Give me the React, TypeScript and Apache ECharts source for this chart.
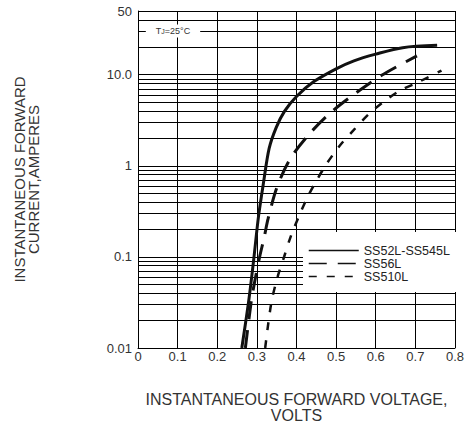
import React, { useEffect, useRef } from "react";
import * as echarts from "echarts";

const xTickLabels = ["0", "0.1", "0.2", "0.3", "0.4", "0.5", "0.6", "0.7", "0.8"];
const yTickValues = [0.01, 0.1, 1, 10, 50];
const yTickLabels = ["0.01", "0.1", "1", "10.0", "50"];
const minorGridValues = [
  0.02, 0.03, 0.04, 0.05, 0.06, 0.07, 0.08, 0.09,
  0.2, 0.3, 0.4, 0.5, 0.6, 0.7, 0.8, 0.9,
  2, 3, 4, 5, 6, 7, 8, 9,
  20, 30, 40,
];

const seriesNames = ["SS52L-SS545L", "SS56L", "SS510L"];

const ss52Voltage = [0.262, 0.28, 0.292, 0.304, 0.3163, 0.331, 0.349, 0.37, 0.4, 0.443, 0.5, 0.545, 0.6, 0.668, 0.755];
const ss52Current = [0.01, 0.0343, 0.093, 0.275, 0.633, 1.55, 2.64, 3.98, 5.77, 8.35, 11.6, 14.2, 16.8, 19.8, 21.0];

const ss56Voltage = [0.271, 0.286, 0.294, 0.307, 0.318, 0.3285, 0.3505, 0.384, 0.431, 0.486, 0.549, 0.615, 0.704];
const ss56Current = [0.01, 0.033, 0.052, 0.1, 0.16, 0.264, 0.577, 1.19, 2.2, 3.82, 6.25, 9.84, 16.1];

const ss510Voltage = [0.321, 0.3366, 0.3529, 0.369, 0.3854, 0.4056, 0.4286, 0.4505, 0.476, 0.5086, 0.543, 0.582, 0.619, 0.661, 0.709, 0.766];
const ss510Current = [0.01, 0.0316, 0.0614, 0.101, 0.167, 0.275, 0.46, 0.687, 1.05, 1.65, 2.43, 3.67, 5.0, 6.68, 8.35, 11.1];

const FONT = "'Liberation Sans', Arial, sans-serif";

function zip(xs: number[], ys: number[]) {
  return xs.map((x, i) => [x, ys[i]]);
}

export default function App() {
  const ref = useRef<HTMLDivElement>(null);

  useEffect(() => {
    if (!ref.current) return;
    const chart = echarts.init(ref.current, null, { renderer: "svg" });

    const lineBase = {
      type: "line",
      showSymbol: false,
      symbol: "none",
      smooth: 0.3,
      z: 2,
      itemStyle: { color: "#111" },
    };

    const option: any = {
      animation: false,
      backgroundColor: "#fff",
      textStyle: { fontFamily: FONT },
      grid: { left: 138, right: 6, top: 11, bottom: 79 },
      xAxis: {
        type: "value",
        min: 0,
        max: 0.8,
        interval: 0.1,
        name: "INSTANTANEOUS FORWARD VOLTAGE,\nVOLTS",
        nameLocation: "middle",
        nameGap: 43,
        nameTextStyle: { fontSize: 16, color: "#333", lineHeight: 16, fontFamily: FONT },
        axisLine: { show: true, lineStyle: { color: "#000", width: 1 } },
        axisTick: { show: false },
        axisLabel: {
          fontSize: 13,
          color: "#333",
          margin: 2,
          fontFamily: FONT,
          formatter: (v: number) => xTickLabels[Math.round(v * 10)] ?? "",
        },
        splitLine: { show: true, lineStyle: { color: "#000", width: 1 } },
      },
      yAxis: {
        type: "log",
        logBase: 10,
        min: 0.01,
        max: 50,
        name: "INSTANTANEOUS FORWARD\nCURRENT,AMPERES",
        nameLocation: "middle",
        nameRotate: 90,
        nameGap: 98,
        nameTextStyle: { fontSize: 15, color: "#333", lineHeight: 14, fontFamily: FONT },
        axisLine: { show: true, lineStyle: { color: "#000", width: 1 } },
        axisTick: { show: false },
        axisLabel: {
          fontSize: 13,
          color: "#333",
          margin: 6,
          fontFamily: FONT,
          formatter: (v: number) => {
            const idx = yTickValues.findIndex((t) => Math.abs(Math.log10(v) - Math.log10(t)) < 1e-6);
            return idx >= 0 ? yTickLabels[idx] : "";
          },
        },
        splitLine: { show: true, lineStyle: { color: "#000", width: 1 } },
      },
      legend: {
        orient: "vertical",
        left: 308,
        top: 244,
        padding: 0,
        itemWidth: 50,
        itemHeight: 11,
        itemGap: 0,
        selectedMode: false,
        z: 5,
        itemStyle: { opacity: 0 },
        lineStyle: { width: 1.5, color: "#111" },
        textStyle: { fontSize: 12.5, color: "#222", lineHeight: 11, fontFamily: FONT },
        data: seriesNames,
      },
      graphic: [
        {
          type: "rect",
          left: 303,
          top: 232,
          z: 3,
          shape: { width: 155, height: 60 },
          style: { fill: "#fff" },
        },
        {
          type: "text",
          x: 173,
          y: 31,
          z: 3,
          style: {
            text: "{a|T}{b|J}{a|=25°C}",
            align: "center",
            verticalAlign: "middle",
            backgroundColor: "#fff",
            padding: [2, 10],
            rich: {
              a: { fontSize: 9, fill: "#333", fontFamily: FONT },
              b: { fontSize: 7, fill: "#333", fontFamily: FONT },
            },
          },
        },
      ],
      series: [
        {
          ...lineBase,
          name: seriesNames[0],
          data: zip(ss52Voltage, ss52Current),
          lineStyle: { color: "#111", width: 3, type: "solid" },
          markLine: {
            silent: true,
            z: 1,
            symbol: ["none", "none"],
            label: { show: false },
            emphasis: { disabled: true },
            lineStyle: { color: "#000", width: 1, type: "solid" },
            data: minorGridValues.map((v) => ({ yAxis: v })),
          },
        },
        {
          ...lineBase,
          name: seriesNames[1],
          data: zip(ss56Voltage, ss56Current),
          lineStyle: { color: "#111", width: 3, type: [18, 11] },
        },
        {
          ...lineBase,
          name: seriesNames[2],
          data: zip(ss510Voltage, ss510Current),
          lineStyle: { color: "#111", width: 2.5, type: [8, 10] },
        },
      ],
    };

    chart.setOption(option);
    return () => chart.dispose();
  }, []);

  return (
    <div
      ref={ref}
      style={{ position: "fixed", left: 0, top: 0, width: 467, height: 428, background: "#fff" }}
    />
  );
}
